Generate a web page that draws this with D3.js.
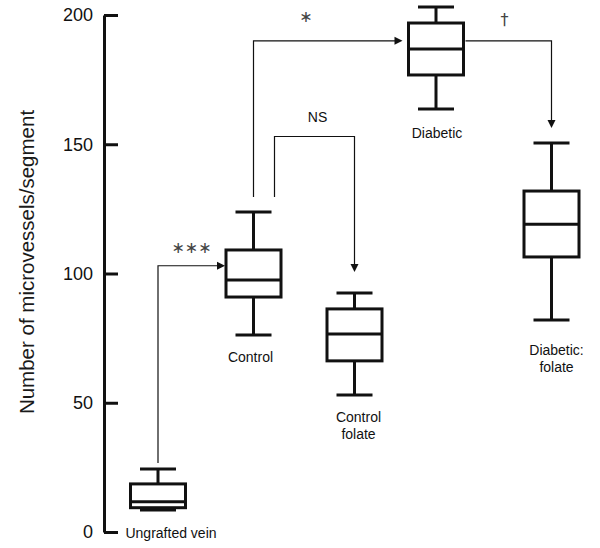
<!DOCTYPE html>
<html>
<head>
<meta charset="utf-8">
<script src="https://cdn.jsdelivr.net/npm/d3@7"></script>
<style>
  html, body { margin: 0; padding: 0; background: #fff; }
  svg { display: block; }
</style>
</head>
<body>
<script>
// ---------------- DATA ----------------
const categories = ["Ungrafted vein", "Control", "Control folate", "Diabetic", "Diabetic: folate"];
const categoryLabelLines = [["Ungrafted vein"], ["Control"], ["Control", "folate"], ["Diabetic"], ["Diabetic:", "folate"]];
const whiskerLow  = [8.5, 76.2, 53.0, 163.6, 82.0];
const quartile1   = [9.4, 90.9, 66.2, 176.8, 106.4];
const medians     = [11.7, 97.5, 76.6, 186.8, 119.1];
const quartile3   = [18.6, 109.1, 86.3, 196.9, 131.9];
const whiskerHigh = [24.4, 123.8, 92.5, 203.1, 150.5];
const yTicks = [0, 50, 100, 150, 200];
const yAxisTitle = "Number of microvessels/segment";

// significance comparisons
const compFrom  = ["Ungrafted vein", "Control", "Control", "Diabetic"];
const compTo    = ["Control", "Diabetic", "Control folate", "Diabetic: folate"];
const compLabel = ["\u2217\u2217\u2217", "\u2217", "NS", "\u2020"];
const compLevel = [103, 190, 153, 190];

// ---------------- LAYOUT ----------------
const W = 600, H = 548;
const svg = d3.select("body").append("svg").attr("width", W).attr("height", H)
  .style("font-family", "'Liberation Sans', Arial, Helvetica, sans-serif");
svg.append("rect").attr("width", W).attr("height", H).attr("fill", "#fff");

const y = d3.scaleLinear().domain([0, 200]).range([532, 15]);
const x = d3.scaleOrdinal().domain(categories).range([158, 253.5, 354.5, 436, 551.5]);
const boxW = 55, capW = 36;
const ink = "#111";

// axis
const axisX = 104;
const axis = d3.axisLeft(y).tickValues(yTicks).tickSizeInner(-14).tickSizeOuter(0).tickPadding(11)
  .tickFormat(d3.format("d"));
const gAxis = svg.append("g").attr("transform", `translate(${axisX},0)`).call(axis);
gAxis.select(".domain").attr("stroke", ink).attr("stroke-width", 3);
gAxis.selectAll(".tick line").attr("stroke", ink).attr("stroke-width", 3);
gAxis.selectAll(".tick text").attr("fill", ink).style("font-size", "18px")
  .style("font-family", "'Liberation Sans', Arial, sans-serif");

svg.append("text")
  .attr("transform", `translate(34,262) rotate(-90)`)
  .attr("text-anchor", "middle")
  .attr("fill", "#1a1a1a")
  .style("font-size", "20.5px")
  .text(yAxisTitle);

// boxes
const boxes = categories.map((c, i) => ({
  c, i, lo: whiskerLow[i], q1: quartile1[i], med: medians[i], q3: quartile3[i], hi: whiskerHigh[i]
}));

const g = svg.append("g").attr("stroke", ink).attr("stroke-width", 3).attr("fill", "none");
const bg = g.selectAll("g.box").data(boxes).join("g").attr("class", "box");
// whiskers
bg.append("line").attr("x1", d => x(d.c)).attr("x2", d => x(d.c))
  .attr("y1", d => y(d.q3)).attr("y2", d => y(d.hi));
bg.append("line").attr("x1", d => x(d.c)).attr("x2", d => x(d.c))
  .attr("y1", d => y(d.q1)).attr("y2", d => y(d.lo));
bg.append("line").attr("x1", d => x(d.c) - capW / 2).attr("x2", d => x(d.c) + capW / 2)
  .attr("y1", d => y(d.hi)).attr("y2", d => y(d.hi));
bg.append("line").attr("x1", d => x(d.c) - capW / 2).attr("x2", d => x(d.c) + capW / 2)
  .attr("y1", d => y(d.lo)).attr("y2", d => y(d.lo));
// box
bg.append("rect").attr("x", d => x(d.c) - boxW / 2).attr("width", boxW)
  .attr("y", d => y(d.q3)).attr("height", d => y(d.q1) - y(d.q3)).attr("fill", "#fff");
bg.append("line").attr("x1", d => x(d.c) - boxW / 2).attr("x2", d => x(d.c) + boxW / 2)
  .attr("y1", d => y(d.med)).attr("y2", d => y(d.med));

// category labels
const labelDx = [13, -3, 4, 1, 5];
const labelDy = [28, 27, 27, 29, 35];
boxes.forEach(d => {
  const t = svg.append("text").attr("text-anchor", "middle").attr("fill", ink)
    .style("font-size", "14px");
  categoryLabelLines[d.i].forEach((line, k) => {
    t.append("tspan").attr("x", x(d.c) + labelDx[d.i])
      .attr("y", y(d.lo) + labelDy[d.i] + k * 17).text(line);
  });
});

// comparison arrows
const startDx = [0, 0, 21, 0];
const labelNudge = [0, -22, 3, -4];
const labelRise = [18, 24, 19, 21];
const ag = svg.append("g");
function arrowHead(px, py, dir) {
  const L = 8, hw = 4;
  let pts;
  if (dir === "right") pts = [[px, py], [px - L, py - hw], [px - L, py + hw]];
  else pts = [[px, py], [px - hw, py - L], [px + hw, py - L]];
  ag.append("path").attr("d", d3.line()(pts) + "Z").attr("fill", ink).attr("stroke", "none");
}
compFrom.forEach((f, k) => {
  const si = categories.indexOf(f), ti = categories.indexOf(compTo[k]);
  const lev = compLevel[k];
  const ly = y(lev);
  const pts = [];
  let sx;
  if (lev >= quartile1[si] && lev <= quartile3[si]) {
    sx = x(f) + boxW / 2 + 2;
    pts.push([sx, ly]);
  } else {
    sx = x(f) + startDx[k];
    const gap = k === 0 ? 6 : 15;
    pts.push([sx, y(whiskerHigh[si]) - gap]);
    pts.push([sx, ly]);
  }
  let ex, dir, tip;
  if (lev >= quartile1[ti] && lev <= quartile3[ti]) {
    ex = x(compTo[k]) - boxW / 2 - (k === 0 ? 1 : 6);
    pts.push([ex - 7, ly]);
    dir = "right"; tip = [ex, ly];
  } else {
    ex = x(compTo[k]);
    const gap = k === 2 ? 21 : 15;
    pts.push([ex, ly]);
    const ty = y(whiskerHigh[ti]) - gap;
    pts.push([ex, ty - 7]);
    dir = "down"; tip = [ex, ty];
  }
  ag.append("path").attr("d", d3.line()(pts)).attr("fill", "none")
    .attr("stroke", ink).attr("stroke-width", 1.2);
  arrowHead(tip[0], tip[1], dir);
  const lx = (pts[0][0] + ex) / 2 + labelNudge[k];
  const isSym = compLabel[k] !== "NS";
  ag.append("text").attr("x", lx).attr("y", ly - labelRise[k])
    .attr("text-anchor", "middle").attr("dominant-baseline", "central")
    .attr("fill", isSym ? "#444" : ink)
    .style("font-family", isSym ? "'DejaVu Sans', sans-serif" : "'Liberation Sans', Arial, sans-serif")
    .style("font-size", compLabel[k] === "\u2020" ? "16px" : (isSym ? "16px" : "14px"))
    .text(compLabel[k]);
});
</script>
</body>
</html>
